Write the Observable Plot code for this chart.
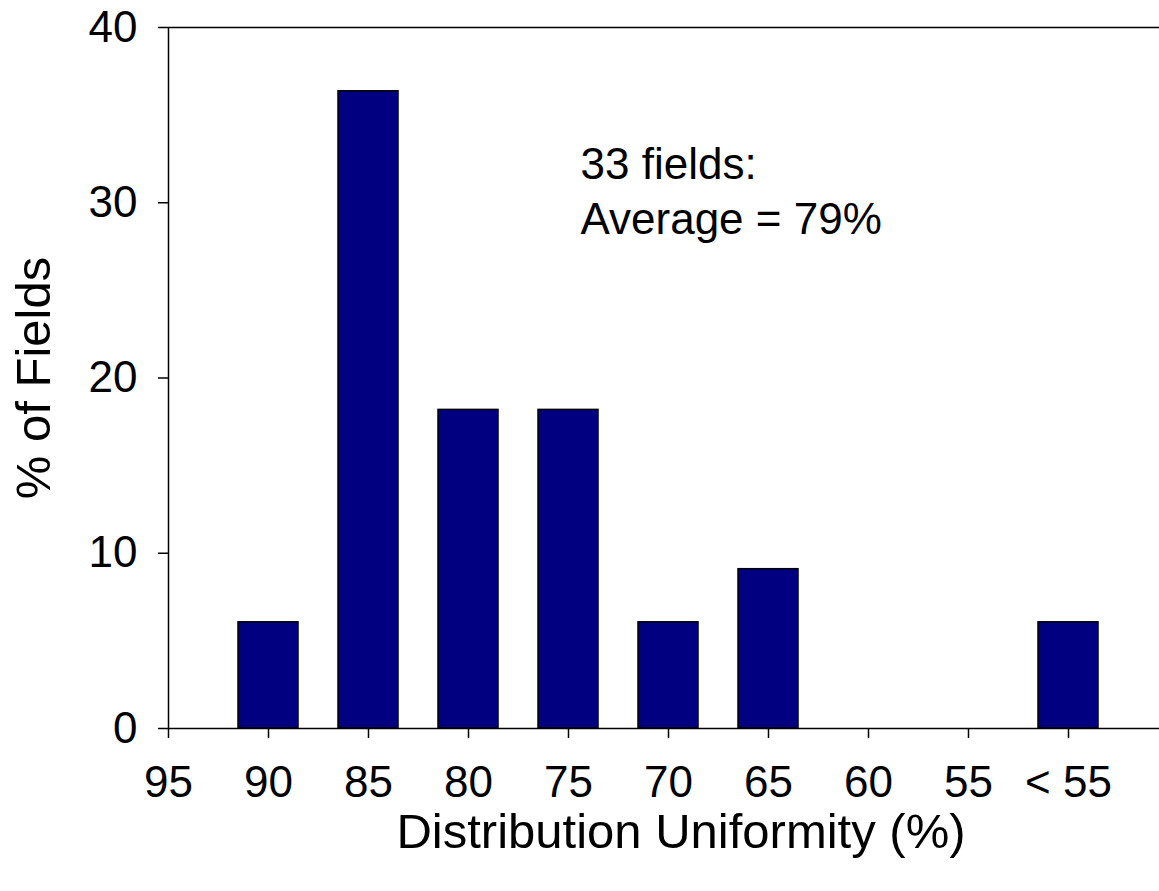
<!DOCTYPE html>
<html><head><meta charset="utf-8">
<script src="https://cdn.jsdelivr.net/npm/d3@7"></script>
<script src="https://cdn.jsdelivr.net/npm/@observablehq/plot@0.6"></script>
<style>body{margin:0;background:#fff} svg{display:block}</style>
</head><body><div id="chart"></div>
<script>
const tickLabels = ["95","90","85","80","75","70","65","60","55","< 55"];
const categories = ["90","85","80","75","70","65","60","55","< 55"];
const percentFields = [6.06, 36.36, 18.18, 18.18, 6.06, 9.09, 0, 0, 6.06];
const yTicks = [0, 10, 20, 30, 40];
const note = "33 fields:\nAverage = 79%";
const xTitle = "Distribution Uniformity (%)";
const yTitle = "% of Fields";

const data = categories.map((c, i) => ({cat: c, pos: tickLabels.indexOf(c), value: percentFields[i]}));
const halfWidth = 0.3;
const font = "'Liberation Sans', Arial, sans-serif";

const chart = Plot.plot({
  width: 1159, height: 891,
  marginLeft: 168, marginRight: 0, marginTop: 27, marginBottom: 163,
  style: {fontFamily: font, background: "#fff", color: "#000"},
  x: {type: "linear", domain: [0, 9.91]},
  y: {domain: [0, 40]},
  marks: [
    Plot.rectY(data.filter(d => d.value > 0), {
      x1: d => d.pos - halfWidth, x2: d => d.pos + halfWidth, y1: 0, y2: "value",
      fill: "#000080", stroke: "#000", strokeWidth: 1.5
    }),
    Plot.ruleY([0, 40], {stroke: "#000", strokeWidth: 1.5}),
    Plot.ruleX([0], {stroke: "#000", strokeWidth: 1.5}),
    Plot.axisY({ticks: yTicks, tickSize: 10, tickPadding: 21, fontSize: 44, label: null, strokeWidth: 1.5}),
    Plot.axisX({ticks: d3.range(tickLabels.length), tickFormat: i => tickLabels[i], tickSize: 10, tickPadding: 27, fontSize: 44, label: null, strokeWidth: 1.5}),
    Plot.text([note], {frameAnchor: "top-left", dx: 412, dy: 112, textAnchor: "start", lineAnchor: "top", fontSize: 44, lineHeight: 1.25, fill: "#000"}),
    Plot.text([xTitle], {frameAnchor: "bottom", dx: 17, dy: 104, textAnchor: "middle", lineAnchor: "middle", fontSize: 49, fill: "#000"}),
    Plot.text([yTitle], {frameAnchor: "left", dx: -134, rotate: -90, textAnchor: "middle", lineAnchor: "middle", fontSize: 49, fill: "#000"})
  ]
});
document.getElementById("chart").appendChild(chart);
</script>
</body></html>
